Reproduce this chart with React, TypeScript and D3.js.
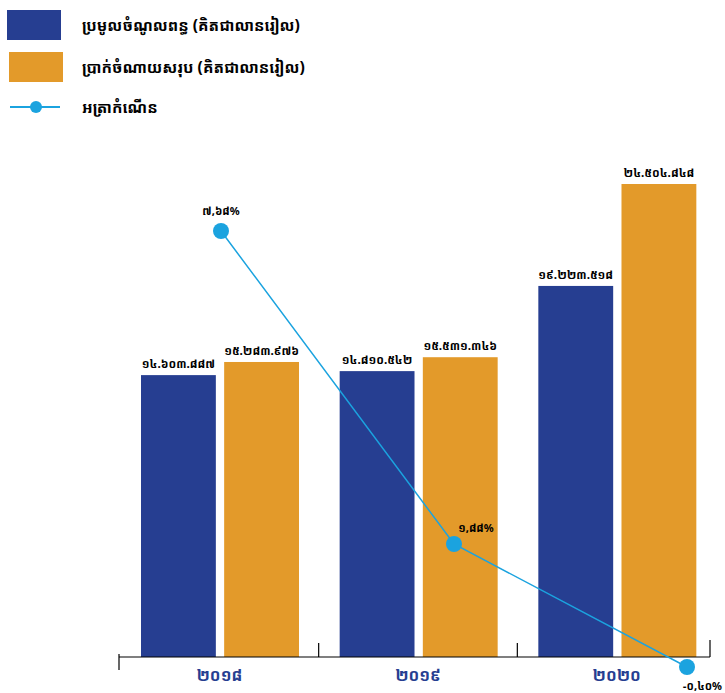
import React from "react";
import * as d3 from "d3";

const years = ["២០១៨", "២០១៩", "២០២០"];
const revenue = [14603887, 14810542, 19223518];
const expense = [15283976, 15531346, 24504848];
const growth = [7.68, 1.88, -0.4];
const legendLabels = [
  "ប្រមូលចំណូលពន្ធ (គិតជាលានរៀល)",
  "ប្រាក់ចំណាយសរុប (គិតជាលានរៀល)",
  "អត្រាកំណើន",
];

const W = 725;
const H = 693;
const BLUE = "#263e91";
const ORANGE = "#e39a2a";
const CYAN = "#1ba3df";
const FONT = "'Noto Sans Khmer', 'Khmer OS', 'Noto Sans', 'DejaVu Sans', sans-serif";

const khDigits = "០១២៣៤៥៦៧៨៩";
const toKh = (s: string) => s.replace(/[0-9]/g, (c) => khDigits[+c]);
const fmtNum = (v: number) => toKh(d3.format(",")(v).replace(/,/g, "."));
const fmtPct = (v: number) => toKh(d3.format(".2f")(v).replace(".", ",")) + "%";

export default function App() {
  const axisY = 657;
  const x0 = d3.scaleBand<string>().domain(years).range([120, 716]);
  const x1 = d3
    .scaleBand<string>()
    .domain(["rev", "exp"])
    .range([21, 179])
    .paddingInner(0.1);
  const y = d3
    .scaleLinear()
    .domain([0, d3.max(expense.concat(revenue)) as number])
    .range([axisY, 184]);
  const xp = d3.scalePoint<string>().domain(years).range([221, 687]);
  const y2 = d3
    .scaleLinear()
    .domain([d3.min(growth) as number, d3.max(growth) as number])
    .range([667, 231]);

  const line = d3
    .line<number>()
    .x((_, i) => xp(years[i]) as number)
    .y((d) => y2(d));

  const series = [
    { key: "rev", values: revenue, color: BLUE },
    { key: "exp", values: expense, color: ORANGE },
  ];

  const pctPos = [
    { dx: 0, dy: -21, anchor: "middle" },
    { dx: 22, dy: -16, anchor: "middle" },
    { dx: 35, dy: 18, anchor: "end" },
  ];

  return (
    <svg
      width={W}
      height={H}
      style={{ position: "absolute", left: 0, top: 0, background: "#fff" }}
      fontFamily={FONT}
    >
      {/* legend */}
      <rect x={7} y={10} width={54} height={30} fill={BLUE} />
      <rect x={9} y={52} width={54} height={30} fill={ORANGE} />
      <line x1={10} x2={60} y1={107} y2={107} stroke={CYAN} strokeWidth={2} />
      <circle cx={36} cy={107} r={6} fill={CYAN} />
      {legendLabels.map((t, i) => (
        <text
          key={t}
          x={82}
          y={[25, 67, 107][i]}
          dominantBaseline="central"
          fontSize={15.5}
          fontWeight="bold"
          fill="#000"
        >
          {t}
        </text>
      ))}

      {/* bars */}
      {years.map((yr, i) => (
        <g key={yr} transform={`translate(${x0(yr)},0)`}>
          {series.map((s) => (
            <g key={s.key}>
              <rect
                x={x1(s.key)}
                y={y(s.values[i])}
                width={x1.bandwidth()}
                height={axisY - y(s.values[i])}
                fill={s.color}
              />
              <text
                x={(x1(s.key) as number) + x1.bandwidth() / 2}
                y={y(s.values[i]) - 7}
                textAnchor="middle"
                fontSize={11.5}
                fontWeight="bold"
                fill="#000"
              >
                {fmtNum(s.values[i])}
              </text>
            </g>
          ))}
          <text
            x={x0.bandwidth() / 2}
            y={675}
            textAnchor="middle"
            dominantBaseline="central"
            fontSize={16}
            fontWeight="bold"
            fill={BLUE}
          >
            {yr}
          </text>
        </g>
      ))}

      {/* axis */}
      <line x1={119} x2={710} y1={axisY} y2={axisY} stroke="#000" strokeWidth={1.2} />
      <line x1={119} x2={119} y1={654} y2={670} stroke="#000" strokeWidth={1.2} />
      {years.slice(1).map((yr) => (
        <line
          key={yr}
          x1={x0(yr)}
          x2={x0(yr)}
          y1={643}
          y2={axisY}
          stroke="#000"
          strokeWidth={1.2}
        />
      ))}
      <line x1={710} x2={710} y1={640} y2={axisY} stroke="#000" strokeWidth={1.2} />

      {/* line */}
      <path d={line(growth) as string} fill="none" stroke={CYAN} strokeWidth={1.5} />
      {growth.map((g, i) => (
        <g key={i}>
          <circle cx={xp(years[i])} cy={y2(g)} r={8} fill={CYAN} />
          <text
            x={(xp(years[i]) as number) + pctPos[i].dx}
            y={y2(g) + pctPos[i].dy}
            textAnchor={pctPos[i].anchor as any}
            dominantBaseline="central"
            fontSize={11}
            fontWeight="bold"
            fill="#000"
          >
            {fmtPct(g)}
          </text>
        </g>
      ))}
    </svg>
  );
}
